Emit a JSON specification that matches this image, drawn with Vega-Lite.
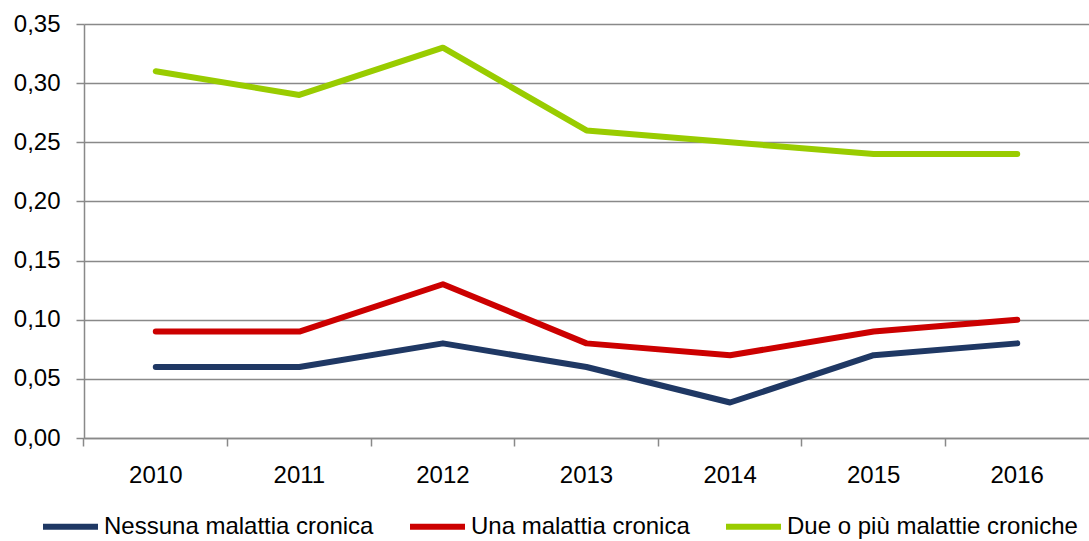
{
  "$schema": "https://vega.github.io/schema/vega-lite/v6.json",
  "width": 1005,
  "height": 414,
  "autosize": "none",
  "padding": {"left": 84, "top": 24, "right": 0, "bottom": 103},
  "background": "white",
  "config": {
    "view": {"stroke": null},
    "font": "Liberation Sans",
    "axis": {"labelFont": "Liberation Sans", "labelColor": "#000000", "labelFontSize": 24, "domainColor": "#898989", "domainWidth": 1.5, "tickColor": "#898989", "tickWidth": 1.5, "gridColor": "#898989", "gridWidth": 1.5}
  },
  "data": {
    "values": [
      {"year": "2010", "serie": "Nessuna malattia cronica", "value": 0.06},
      {"year": "2011", "serie": "Nessuna malattia cronica", "value": 0.06},
      {"year": "2012", "serie": "Nessuna malattia cronica", "value": 0.08},
      {"year": "2013", "serie": "Nessuna malattia cronica", "value": 0.06},
      {"year": "2014", "serie": "Nessuna malattia cronica", "value": 0.03},
      {"year": "2015", "serie": "Nessuna malattia cronica", "value": 0.07},
      {"year": "2016", "serie": "Nessuna malattia cronica", "value": 0.08},
      {"year": "2010", "serie": "Una malattia cronica", "value": 0.09},
      {"year": "2011", "serie": "Una malattia cronica", "value": 0.09},
      {"year": "2012", "serie": "Una malattia cronica", "value": 0.13},
      {"year": "2013", "serie": "Una malattia cronica", "value": 0.08},
      {"year": "2014", "serie": "Una malattia cronica", "value": 0.07},
      {"year": "2015", "serie": "Una malattia cronica", "value": 0.09},
      {"year": "2016", "serie": "Una malattia cronica", "value": 0.10},
      {"year": "2010", "serie": "Due o più malattie croniche", "value": 0.31},
      {"year": "2011", "serie": "Due o più malattie croniche", "value": 0.29},
      {"year": "2012", "serie": "Due o più malattie croniche", "value": 0.33},
      {"year": "2013", "serie": "Due o più malattie croniche", "value": 0.26},
      {"year": "2014", "serie": "Due o più malattie croniche", "value": 0.25},
      {"year": "2015", "serie": "Due o più malattie croniche", "value": 0.24},
      {"year": "2016", "serie": "Due o più malattie croniche", "value": 0.24}
    ]
  },
  "mark": {"type": "line", "strokeWidth": 6, "strokeCap": "round", "strokeJoin": "round"},
  "encoding": {
    "x": {
      "field": "year", "type": "ordinal", "bandPosition": 0.5,
      "scale": {"type": "band", "paddingInner": 0, "paddingOuter": 0},
      "axis": {"title": null, "labelAngle": 0, "bandPosition": 0, "grid": false, "tickSize": 8, "labelPadding": 17, "labelBaseline": "top"}
    },
    "y": {
      "field": "value", "type": "quantitative",
      "scale": {"domain": [0, 0.35], "nice": false},
      "axis": {"title": null, "values": [0, 0.05, 0.1, 0.15, 0.2, 0.25, 0.3, 0.35], "labelExpr": "replace(format(datum.value, '.2f'), '.', ',')", "tickSize": 8, "labelPadding": 16, "grid": true}
    },
    "color": {
      "field": "serie", "type": "nominal",
      "scale": {"domain": ["Nessuna malattia cronica", "Una malattia cronica", "Due o più malattie croniche"], "range": ["#1F3864", "#CC0000", "#99CC00"]},
      "legend": {
        "title": null, "orient": "none", "direction": "horizontal", "legendX": -44, "legendY": 472,
        "symbolType": "stroke", "symbolSize": 3025, "symbolStrokeWidth": 6,
        "labelFont": "Liberation Sans", "labelFontSize": 24, "labelColor": "#000000", "labelLimit": 400, "labelOffset": 3, "columnPadding": 24
      }
    }
  }
}
